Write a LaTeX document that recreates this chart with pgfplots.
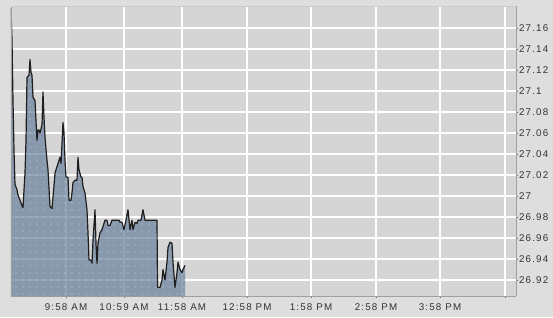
\documentclass[border=0pt]{standalone}
\usepackage{pgfplots}
\pgfplotsset{compat=1.18}
\usepackage{pgfplotstable}
\usepackage{fontspec}
\setmainfont{Liberation Sans}
\newfontfamily\tickfont{Liberation Sans}[LetterSpace=12]
\usetikzlibrary{patterns}
\definecolor{outerbg}{HTML}{DEDEDE}
\definecolor{plotbg}{HTML}{D5D5D5}
\definecolor{fillc}{RGB}{112,134,160}
\definecolor{linec}{HTML}{1E1E1E}
\definecolor{labc}{HTML}{333333}
\pgfdeclarepatternformonly{sparsedots}{\pgfqpoint{-1pt}{-1pt}}{\pgfqpoint{7pt}{7pt}}{\pgfqpoint{7pt}{7pt}}{%
  \pgfpathcircle{\pgfqpoint{2pt}{2pt}}{0.6pt}\pgfusepath{fill}}
\pgfplotstableread{
x y
11 27.179
12 27.149
13 27.091
14 27.044
15 27.011
17 27.006
18 27.001
20 26.996
22 26.991
23 26.989
25 27.022
26 27.053
27 27.113
29 27.115
30 27.130
31 27.118
32 27.115
33 27.094
35 27.091
37 27.053
38 27.063
39 27.063
40 27.060
42 27.068
43 27.099
44 27.075
45 27.056
47 27.034
48 27.025
50 26.990
52 26.988
54 27.010
55 27.022
57 27.028
58 27.031
60 27.037
61 27.031
62 27.050
63 27.070
64 27.060
65 27.034
66 27.018
68 27.018
69 26.996
71 26.996
72 27.003
73 27.013
75 27.015
77 27.015
78 27.037
79 27.025
81 27.018
82 27.018
83 27.009
85 27.003
87 26.987
88 26.965
89 26.939
91 26.939
92 26.936
93 26.958
95 26.987
96 26.955
97 26.936
98 26.955
100 26.965
102 26.968
103 26.971
105 26.977
107 26.977
108 26.972
110 26.972
112 26.977
115 26.977
117 26.977
119 26.977
120 26.975
122 26.975
124 26.968
126 26.977
128 26.987
130 26.968
132 26.977
133 26.968
135 26.975
137 26.974
138 26.977
141 26.977
143 26.987
145 26.977
157 26.977
157.5 26.913
160 26.913
162 26.920
163 26.930
165 26.920
167 26.937
168 26.951
170 26.956
172 26.955
173 26.937
175 26.913
177 26.927
178 26.937
180 26.930
182 26.927
183 26.930
185 26.934
}\data
\begin{document}
\begin{tikzpicture}
\fill[outerbg] (-11pt,-21pt) rectangle (542pt,296pt);
\begin{axis}[
  at={(0pt,0pt)}, anchor=south west,
  scale only axis, width=505pt, height=290pt,
  xmin=11, xmax=516, ymin=26.9048, ymax=27.181,
  axis background/.style={fill=plotbg},
  axis line style={draw=gray!75, line width=0.6pt},
  grid=major, grid style={white, line width=1.3pt},
  xtick={66,124,182,247,311,376,440,505},
  xticklabels={9:58 AM,10:59 AM,11:58 AM,12:58 PM,1:58 PM,2:58 PM,3:58 PM,},
  ytick={26.92,26.94,26.96,26.98,27,27.02,27.04,27.06,27.08,27.1,27.12,27.14,27.16},
  yticklabels={26.92,26.94,26.96,26.98,27,27.02,27.04,27.06,27.08,27.1,27.12,27.14,27.16},
  /pgf/number format/assume math mode=true,
  axis y line*=right,
  ytick pos=right,
  xtick pos=bottom,
  tick align=outside,
  major tick length=2pt,
  tick style={draw=gray!90!black, line width=0.6pt},
  ticklabel style={font=\tickfont\fontsize{9.8}{11}\selectfont, text=labc},
  yticklabel style={xshift=-2.5pt},
  xticklabel style={yshift=-2pt},
  clip=true,
]
\addplot[draw=none, fill=fillc, fill opacity=0.75,
  postaction={pattern=sparsedots, pattern color=white!75!fillc}]
  table[x=x,y=y] {\data} -- (axis cs:185,26.9048) -- (axis cs:11,26.9048) -- cycle;
\addplot[linec, line width=1.2pt, line join=round] table[x=x,y=y] {\data};
\draw[gray!75, line width=0.6pt] (rel axis cs:0,0) -- (rel axis cs:0,1);
\draw[gray!40, line width=0.6pt] (rel axis cs:0,1) -- (rel axis cs:1,1);
\end{axis}
\pgfresetboundingbox
\useasboundingbox (-11pt,-21pt) rectangle (542pt,296pt);
\end{tikzpicture}
\end{document}
